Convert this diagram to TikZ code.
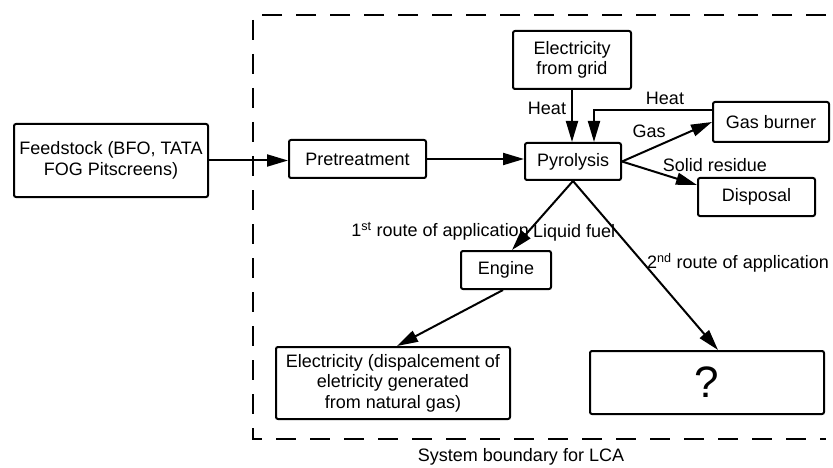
\documentclass[tikz,border=0pt]{standalone}
\usepackage{fontspec}
\setmainfont{Liberation Sans}
\usetikzlibrary{arrows.meta,calc}

\begin{document}
\begin{tikzpicture}[x=1pt,y=-1pt,font=\fontsize{18}{20.5}\selectfont,
    box/.style={draw,line width=2pt,rounded corners=2pt,inner sep=0pt,align=center},
    arr/.style={line width=2pt,-{Triangle[length=21pt,width=12pt]}}]
  \useasboundingbox (0,0) rectangle (833,468);
  % system boundary
  \draw[line width=2.2pt,dash pattern=on 20pt off 14pt] (826,15) -- (253,15) -- (253,439) -- (826,439);
  \node (sysbnd) at (521,457) {System boundary for LCA};
  % boxes
  \node[box,minimum width=194pt,minimum height=73pt] (feed) at (111,160.5) {Feedstock (BFO, TATA\\FOG Pitscreens)};
  \node[box,minimum width=137pt,minimum height=38pt] (pre) at (357.5,159) {Pretreatment};
  \node[box,minimum width=96pt,minimum height=37pt] (pyro) at (573,161.5) {Pyrolysis};
  \node[box,minimum width=118pt,minimum height=58pt] (grid) at (572,60) {Electricity\\from grid};
  \node[box,minimum width=116pt,minimum height=40pt] (burner) at (771,122) {Gas burner};
  \node[box,minimum width=117pt,minimum height=38pt] (disp) at (756.5,197) {Disposal};
  \node[box,minimum width=90pt,minimum height=38pt] (engine) at (506,270) {Engine};
  \node[box,minimum width=234pt,minimum height=72pt] (elec) at (393,383) {Electricity (dispalcement of\\eletricity generated\\from natural gas)};
  \node[box,minimum width=234pt,minimum height=63pt,font=\fontsize{44}{48}\selectfont] (quest) at (707,382.5) {?};
  % flows
  \draw[arr] (feed.east) -- (feed.east -| pre.west);
  \draw[arr] (pre.east) -- (pre.east -| pyro.west);
  \draw[arr] (grid.south) -- (grid.south |- pyro.north);
  \draw[arr] ([yshift=12pt]burner.west) -| ([xshift=21pt]pyro.north);
  \draw[arr] (pyro.east) -- (burner.west);
  \draw[arr] (pyro.east) -- ([yshift=12pt]disp.west);
  \draw[arr] (pyro.south) -- ([xshift=6pt]engine.north);
  \draw[arr] (pyro.south) -- ([xshift=11pt]quest.north);
  \draw[arr] ([xshift=-3pt]engine.south) -- ([xshift=4pt]elec.north);
  % labels
  \node (heatgrid) at (547,108) {Heat};
  \node (heatburn) at (665,98) {Heat};
  \node (gas) at (649,131) {Gas};
  \node (solid) at (715,165) {Solid residue};
  \node[anchor=east,inner sep=0pt] (route1) at (529,231) {1\textsuperscript{st} route of application};
  \node[anchor=west,inner sep=0pt] (liquid) at (533,233) {Liquid fuel};
  \node[anchor=west,inner sep=0pt] (route2) at (647,263) {2\textsuperscript{nd} route of application};
\end{tikzpicture}
\end{document}
